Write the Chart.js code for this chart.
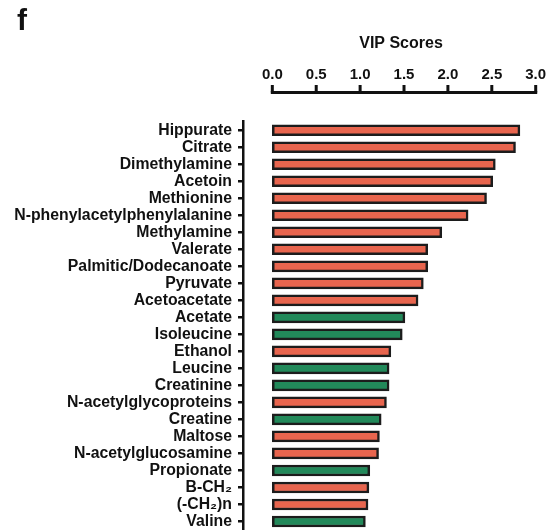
<!DOCTYPE html>
<html><head><meta charset="utf-8">
<script src="https://cdn.jsdelivr.net/npm/chart.js@4/dist/chart.umd.min.js"></script>
<style>html,body{margin:0;padding:0;background:#fff;}#wrap{width:551px;height:530px;position:relative;}</style>
</head><body><div id="wrap"><canvas id="c" width="551" height="530"></canvas></div>
<script>
const panelLabel = 'f';
const axisTitle = 'VIP Scores';
const metabolites = ['Hippurate','Citrate','Dimethylamine','Acetoin','Methionine','N-phenylacetylphenylalanine','Methylamine','Valerate','Palmitic/Dodecanoate','Pyruvate','Acetoacetate','Acetate','Isoleucine','Ethanol','Leucine','Creatinine','N-acetylglycoproteins','Creatine','Maltose','N-acetylglucosamine','Propionate','B-CH\u2082','(-CH\u2082)n','Valine'];
const vipScores = [2.82,2.77,2.54,2.51,2.44,2.23,1.93,1.77,1.77,1.72,1.66,1.51,1.48,1.35,1.33,1.33,1.30,1.24,1.22,1.21,1.11,1.10,1.09,1.06];
const group = ['up','up','up','up','up','up','up','up','up','up','up','down','down','up','down','down','up','down','up','up','down','up','up','down'];
const xTicks = [0, 0.5, 1.0, 1.5, 2.0, 2.5, 3.0];

const groupColor = {up:'#E8654E', down:'#22895A'};
const FONT = '"Liberation Sans", Arial, "DejaVu Sans", sans-serif';

const axisPlugin = {
  id:'axisDecor',
  afterDraw(chart){
    const ctx = chart.ctx, x = chart.scales.x;
    const x0 = x.getPixelForValue(xTicks[0]);
    const x1 = x.getPixelForValue(xTicks[xTicks.length-1]);
    ctx.save();
    ctx.strokeStyle = '#111'; ctx.lineWidth = 3; ctx.lineCap = 'butt';
    ctx.beginPath(); ctx.moveTo(x0-1.5, 92.5); ctx.lineTo(x1+1.5, 92.5); ctx.stroke();
    xTicks.forEach(v => {
      const p = x.getPixelForValue(v);
      ctx.beginPath(); ctx.moveTo(p, 85); ctx.lineTo(p, 92.5); ctx.stroke();
    });
    ctx.fillStyle = '#111';
    ctx.font = 'bold 16px ' + FONT; ctx.textAlign = 'center'; ctx.textBaseline = 'middle';
    ctx.fillText(axisTitle, (x0 + x1)/2 - 3, 43.5);
    ctx.font = 'bold 30px ' + FONT; ctx.textAlign = 'left'; ctx.textBaseline = 'alphabetic';
    ctx.fillText(panelLabel, 17, 30);
    ctx.restore();
  }
};

new Chart(document.getElementById('c'), {
  type:'bar',
  data:{
    labels: metabolites,
    datasets:[{
      data: vipScores,
      backgroundColor: group.map(g => groupColor[g]),
      borderColor:'#1c1c1c',
      borderWidth:2.5,
      borderSkipped:false,
      barThickness:11
    }]
  },
  options:{
    indexAxis:'y',
    responsive:false,
    animation:false,
    devicePixelRatio:1,
    layout:{padding:{left:0,right:15.3,top:0,bottom:0}},
    plugins:{legend:{display:false},tooltip:{enabled:false},title:{display:false}},
    scales:{
      x:{
        position:'top',
        min:-0.334, max:3.0,
        afterBuildTicks: s => { s.ticks = xTicks.map(v => ({value:v})); },
        afterFit: s => { s.height = 121.7; s.paddingLeft = 0; s.paddingRight = 0; },
        grid:{display:false, drawTicks:false},
        border:{display:false},
        ticks:{
          color:'#111', padding:38,
          font:{family:FONT, size:15, weight:'bold'},
          callback: v => Number(v).toFixed(1),
          maxRotation:0, autoSkip:false
        }
      },
      y:{
        afterFit: s => { s.width = 243; s.paddingTop = 0; s.paddingBottom = 0; },
        grid:{drawOnChartArea:false, drawTicks:true, tickLength:5, color:'#111', lineWidth:2.5, offset:false},
        border:{display:true, color:'#111', width:2.5},
        ticks:{color:'#111', padding:6, autoSkip:false, font:{family:FONT, size:15.8, weight:'bold'}}
      }
    }
  },
  plugins:[axisPlugin]
});
</script></body></html>
